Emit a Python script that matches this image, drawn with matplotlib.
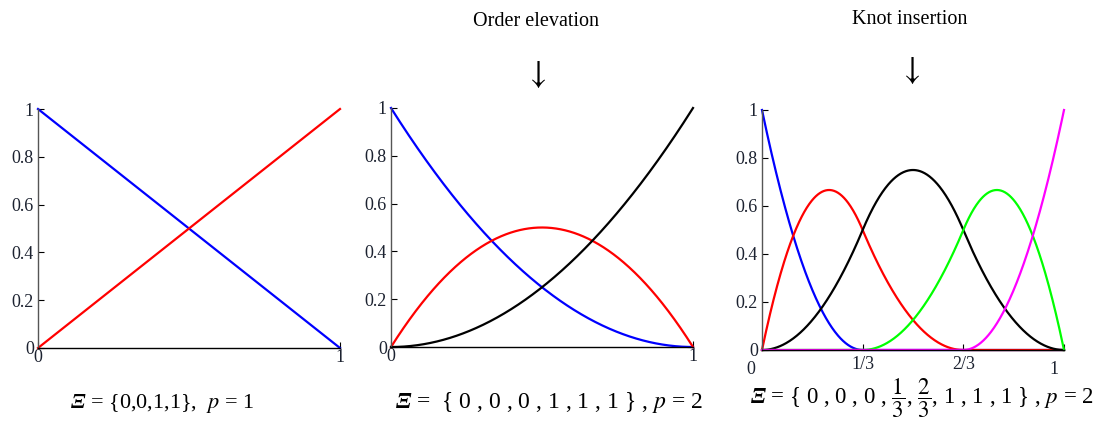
import numpy as np
import matplotlib
matplotlib.use("Agg")
import matplotlib.pyplot as plt

plt.rcParams["font.family"] = ["Liberation Serif", "DejaVu Serif"]
plt.rcParams["mathtext.fontset"] = "custom"
plt.rcParams["mathtext.rm"] = "STIXGeneral"
plt.rcParams["mathtext.it"] = "STIXGeneral:italic"
plt.rcParams["mathtext.bf"] = "Liberation Serif:italic:bold"
plt.rcParams["mathtext.fallback"] = "stix"

# Knot vectors and polynomial degrees of the three B-spline bases
knots_linear = [0, 0, 1, 1]
degree_linear = 1
knots_elevated = [0, 0, 0, 1, 1, 1]
degree_elevated = 2
knots_refined = [0, 0, 0, 1 / 3, 2 / 3, 1, 1, 1]
degree_refined = 2

colors_linear = ["#0000ff", "#ff0000"]
colors_elevated = ["#0000ff", "#ff0000", "#000000"]
colors_refined = ["#0000ff", "#ff0000", "#000000", "#00ff00", "#ff00ff"]

ytick_values = [0, 0.2, 0.4, 0.6, 0.8, 1]
ytick_labels = ["0", "0.2", "0.4", "0.6", "0.8", "1"]

captions = [
    r"$\mathbf{\Xi}$ = {0,0,1,1},  $p$ = 1",
    r"$\mathbf{\Xi}$ =  { 0 , 0 , 0 , 1 , 1 , 1 } , $p$ = 2",
    r"$\mathbf{\Xi}$ = { 0 , 0 , 0 , $\dfrac{1}{3}$, $\dfrac{2}{3}$, 1 , 1 , 1 } , $p$ = 2",
]
titles = ["Order elevation", "Knot insertion"]


def bspline_basis(knots, p, x):
    """Cox-de Boor recursion; returns an array (n_basis, len(x))."""
    knots = np.asarray(knots, dtype=float)
    m = len(knots) - 1
    last = knots[-1]
    N = np.zeros((m, len(x)))
    for i in range(m):
        lo, hi = knots[i], knots[i + 1]
        if hi > lo:
            mask = (x >= lo) & (x < hi)
            if hi == last:
                mask |= x == last
            N[i, mask] = 1.0
    for k in range(1, p + 1):
        Nk = np.zeros((m - k, len(x)))
        for i in range(m - k):
            d1 = knots[i + k] - knots[i]
            d2 = knots[i + k + 1] - knots[i + 1]
            t1 = (x - knots[i]) / d1 * N[i] if d1 > 0 else 0.0
            t2 = (knots[i + k + 1] - x) / d2 * N[i + 1] if d2 > 0 else 0.0
            Nk[i] = t1 + t2
        N = Nk
    return N


W, H = 1109, 421
fig = plt.figure(figsize=(W / 100, H / 100), dpi=100)
TICK_FS = 13
TICK_COLOR = "#1c2230"


def px_axes(left, top, right, bottom):
    return fig.add_axes([left / W, 1 - bottom / H, (right - left) / W, (bottom - top) / H])


def style(ax):
    ax.set_xlim(0, 1)
    ax.set_ylim(0, 1)
    for s in ("top", "right"):
        ax.spines[s].set_visible(False)
    ax.spines["left"].set_color("#555555")
    ax.spines["left"].set_linewidth(1.0)
    ax.spines["bottom"].set_color("black")
    ax.spines["bottom"].set_linewidth(1.0)
    ax.set_yticks(ytick_values)
    ax.set_yticklabels(ytick_labels)
    ax.tick_params(direction="in", length=4, width=0.8, labelsize=TICK_FS,
                   labelcolor=TICK_COLOR, pad=3)
    ax.tick_params(axis="x", pad=1)
    ax.patch.set_alpha(0)


x = np.linspace(0, 1, 601)

ax1 = px_axes(38, 109, 340, 348)
for Ni, c in zip(bspline_basis(knots_linear, degree_linear, x), colors_linear):
    ax1.plot(x, Ni, color=c, lw=1.6, clip_on=False)
style(ax1)
ax1.set_xticks([0, 1])
ax1.set_xticklabels(["0", "1"])

ax2 = px_axes(391, 108, 693, 347)
for Ni, c in zip(bspline_basis(knots_elevated, degree_elevated, x), colors_elevated):
    ax2.plot(x, Ni, color=c, lw=1.6, clip_on=False)
style(ax2)
ax2.set_xticks([0, 1])
ax2.set_xticklabels(["0", "1"])

ax3 = px_axes(762, 110, 1064, 350)
for Ni, c in zip(bspline_basis(knots_refined, degree_refined, x), colors_refined):
    ax3.plot(x, Ni, color=c, lw=1.6, clip_on=False)
style(ax3)
ax3.set_xticks([0, 1 / 3, 2 / 3, 1])
ax3.set_xticklabels(["", "1/3", "2/3", ""])
ax3.tick_params(axis="x", pad=4)
ax3.text(-11 / 302, -0.045, "0", transform=ax3.transAxes, ha="center", va="top",
         fontsize=TICK_FS, color=TICK_COLOR)
ax3.text(1 - 10 / 302, -0.045, "1", transform=ax3.transAxes, ha="center", va="top",
         fontsize=TICK_FS, color=TICK_COLOR)

# Captions under each panel
fig.text(162 / W, 1 - 408 / H, captions[0], ha="center", va="baseline", fontsize=16)
fig.text(549 / W, 1 - 408 / H, captions[1], ha="center", va="baseline", fontsize=17)
fig.text(922 / W, 1 - 404 / H, captions[2], ha="center", va="baseline", fontsize=16.5)

# Operation headers with arrows
fig.text(536 / W, 1 - 22 / H, titles[0], ha="center", va="center", fontsize=14.5)
fig.text(536 / W, 1 - 74 / H, r"$\downarrow$", ha="center", va="center", fontsize=24)
fig.text(910 / W, 1 - 20 / H, titles[1], ha="center", va="center", fontsize=14.5)
fig.text(910 / W, 1 - 70 / H, r"$\downarrow$", ha="center", va="center", fontsize=24)

fig.savefig("out.png", dpi=100, facecolor="white")
